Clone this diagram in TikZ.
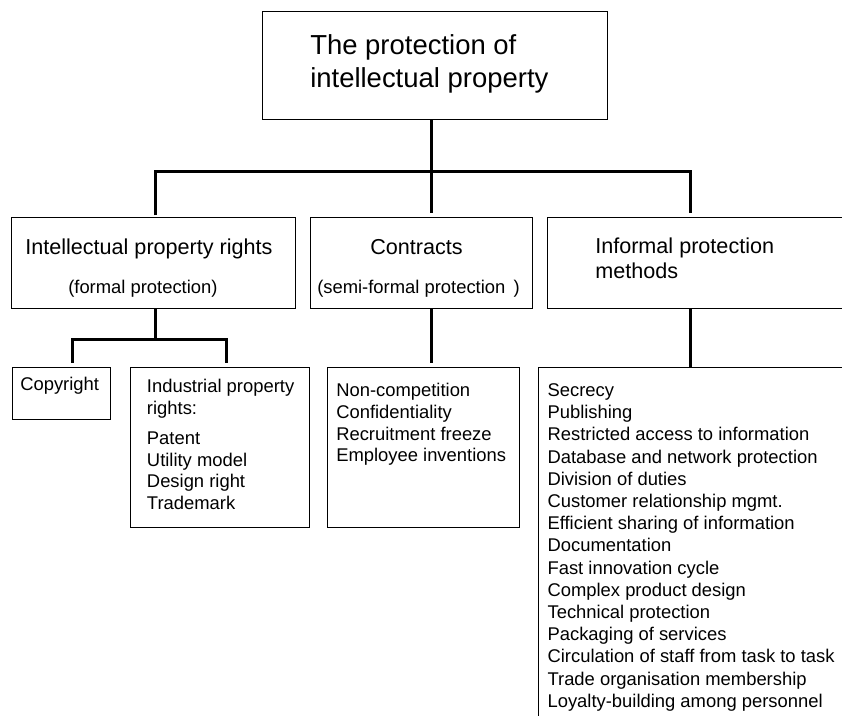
\documentclass[tikz,border=0pt]{standalone}
\usepackage{fontspec}
\setmainfont{Liberation Sans}
\begin{document}
\begin{tikzpicture}[x=0.75pt,y=-0.75pt,
  box/.style={draw, line width=1pt, inner sep=0pt, anchor=north west},
  conn/.style={line width=2.25pt},
  txt/.style={inner sep=0pt, anchor=base west, align=left},
  big/.style={font=\fontsize{20.6}{24.75}\selectfont},
  head/.style={font=\fontsize{16.2}{18.75}\selectfont},
  small/.style={font=\fontsize{13.8}{16.5}\selectfont}]

% page area
\clip (0,0) rectangle (842,716);
\fill[white] (0,0) rectangle (842,716);

% boxes
\node[box, minimum width=258.75pt, minimum height=81pt]   (top)     at (262,10.7)  {};
\node[box, minimum width=213pt,    minimum height=68.5pt] (ipr)     at (11,216.7)  {};
\node[box, minimum width=166.5pt,  minimum height=68.5pt] (con)     at (310,216.7) {};
\node[box, minimum width=280pt,    minimum height=68.5pt] (inf)     at (547,216.7) {};
\node[box, minimum width=73.5pt,   minimum height=39pt]   (copy)    at (12,367)    {};
\node[box, minimum width=134.25pt, minimum height=120pt]  (ind)     at (130,367)   {};
\node[box, minimum width=144pt,    minimum height=120pt]  (conlist) at (327,367)   {};
\node[box, minimum width=280pt,    minimum height=300pt]  (inflist) at (537.7,367) {};

% texts (multi-line nodes are placed by the baseline of their last line)
\node[txt, big]   (topt)  at (310,88)   {The protection of\\intellectual property};
\node[txt, head]  (iprt)  at (25,255)   {Intellectual property rights};
\node[txt, small] (iprs)  at (68,294)   {(formal protection)};
\node[txt, head]  (cont)  at (370,255)  {Contracts};
\node[txt, small] (cons)  at (317,294)  {(semi-formal protection\ \,)};
\node[txt, head]  (inft)  at (595,279)  {Informal protection\\methods};
\node[txt, small] (copyt) at (20,391)   {Copyright};
\node[txt, font=\fontsize{13.8}{16.1}\selectfont] (indt) at (146.7,509.3)
  {Industrial property\\rights:\\[7pt]Patent\\Utility model\\Design right\\Trademark};
\node[txt, font=\fontsize{13.8}{16.3}\selectfont] (conlt) at (336,461.8)
  {Non-competition\\Confidentiality\\Recruitment freeze\\Employee inventions};
\node[txt, font=\fontsize{13.8}{16.65}\selectfont] (inflt) at (547.3,707.3)
  {Secrecy\\Publishing\\Restricted access to information\\Database and network protection\\Division of duties\\Customer relationship mgmt.\\Efficient sharing of information\\Documentation\\Fast innovation cycle\\Complex product design\\Technical protection\\Packaging of services\\Circulation of staff from task to task\\Trade organisation membership\\Loyalty-building among personnel};

% connectors, first level
\coordinate (hub) at (431.7,172);
\coordinate (hl)  at (155,172);
\coordinate (hr)  at (690.7,172);
\draw[conn] (top.south -| hub) -- (hub);
\draw[conn, shorten <=1pt, shorten >=3pt] (ipr.north -| hl) -- (hl) -- (hr) -- (inf.north -| hr);
\draw[conn, shorten >=3pt] (hub) -- (con.north -| hub);

% connectors, second level
\coordinate (sj) at (155,340);
\coordinate (sl) at (72,340);
\coordinate (sr) at (226,340);
\draw[conn] (ipr.south -| sj) -- (sj);
\draw[conn, shorten <=3pt, shorten >=3pt] (copy.north -| sl) -- (sl) -- (sr) -- (ind.north -| sr);
\draw[conn, shorten >=3pt] (con.south -| hub) -- (conlist.north -| hub);
\draw[conn] (inf.south -| hr) -- (inflist.north -| hr);
\end{tikzpicture}
\end{document}
